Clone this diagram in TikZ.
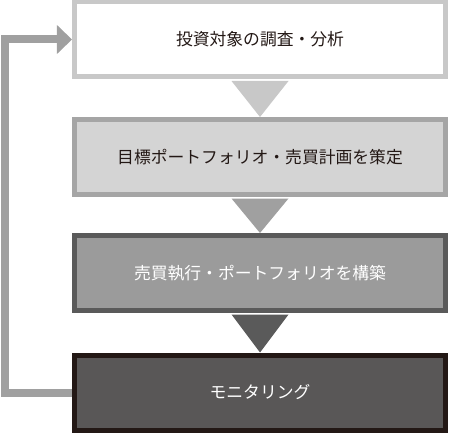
\documentclass[tikz,border=0pt]{standalone}
\usepackage{fontspec}
\setmainfont{Noto Sans CJK JP}
\usepackage{tikz}
\usetikzlibrary{arrows.meta}
\definecolor{ink}{RGB}{35, 24, 21}
\definecolor{lightline}{RGB}{200, 200, 200}
\definecolor{midline}{RGB}{165, 165, 165}
\definecolor{midfill}{RGB}{212, 212, 212}
\definecolor{darkline}{RGB}{90, 90, 90}
\definecolor{darkfill}{RGB}{155, 155, 155}
\definecolor{deepfill}{RGB}{89, 87, 87}
\definecolor{loopgray}{RGB}{160, 160, 160}
\newcommand*{\w}{371bp}

\begin{document}
\begin{tikzpicture}[
   x=1bp, y=-1bp,
   stagebox/.style={rectangle, line width=5bp, inner sep=0, minimum width=\w,
                    minimum height=75bp, font=\fontsize{16.8bp}{20bp}\selectfont},
   surveybox/.style={stagebox, draw=lightline, fill=white, text=ink},
   planbox/.style={stagebox, draw=midline, fill=midfill, text=ink},
   buildbox/.style={stagebox, draw=darkline, fill=darkfill, text=white},
   watchbox/.style={stagebox, draw=ink, fill=deepfill, text=white}
  ]
  \useasboundingbox (0, 0) rectangle (450, 433);

  % Stages
  \node (survey) at (260, 39.5) [surveybox] {投資対象の調査・分析};
  \node (plan) at (260, 157) [planbox] {目標ポートフォリオ・売買計画を策定};
  \node (build) at (260, 273) [buildbox] {売買執行・ポートフォリオを構築};
  \node (watch) at (260, 392.5) [watchbox] {モニタリング};

  % Down arrows
  \foreach \A/\B/\C in {survey/plan/lightline, plan/build/loopgray, build/watch/darkline} {
    \fill[\C] (\A.south) ++(-28.5, 1.5) -- ++(57, 0) -- (\B.north) -- cycle;
  }

  % Feedback loop
  \draw[loopgray, line width=8bp, -{Triangle[length=15bp, width=28bp]}]
    (watch.west) -- ++(-67, 0) |- (survey.west);

\end{tikzpicture}
\end{document}
